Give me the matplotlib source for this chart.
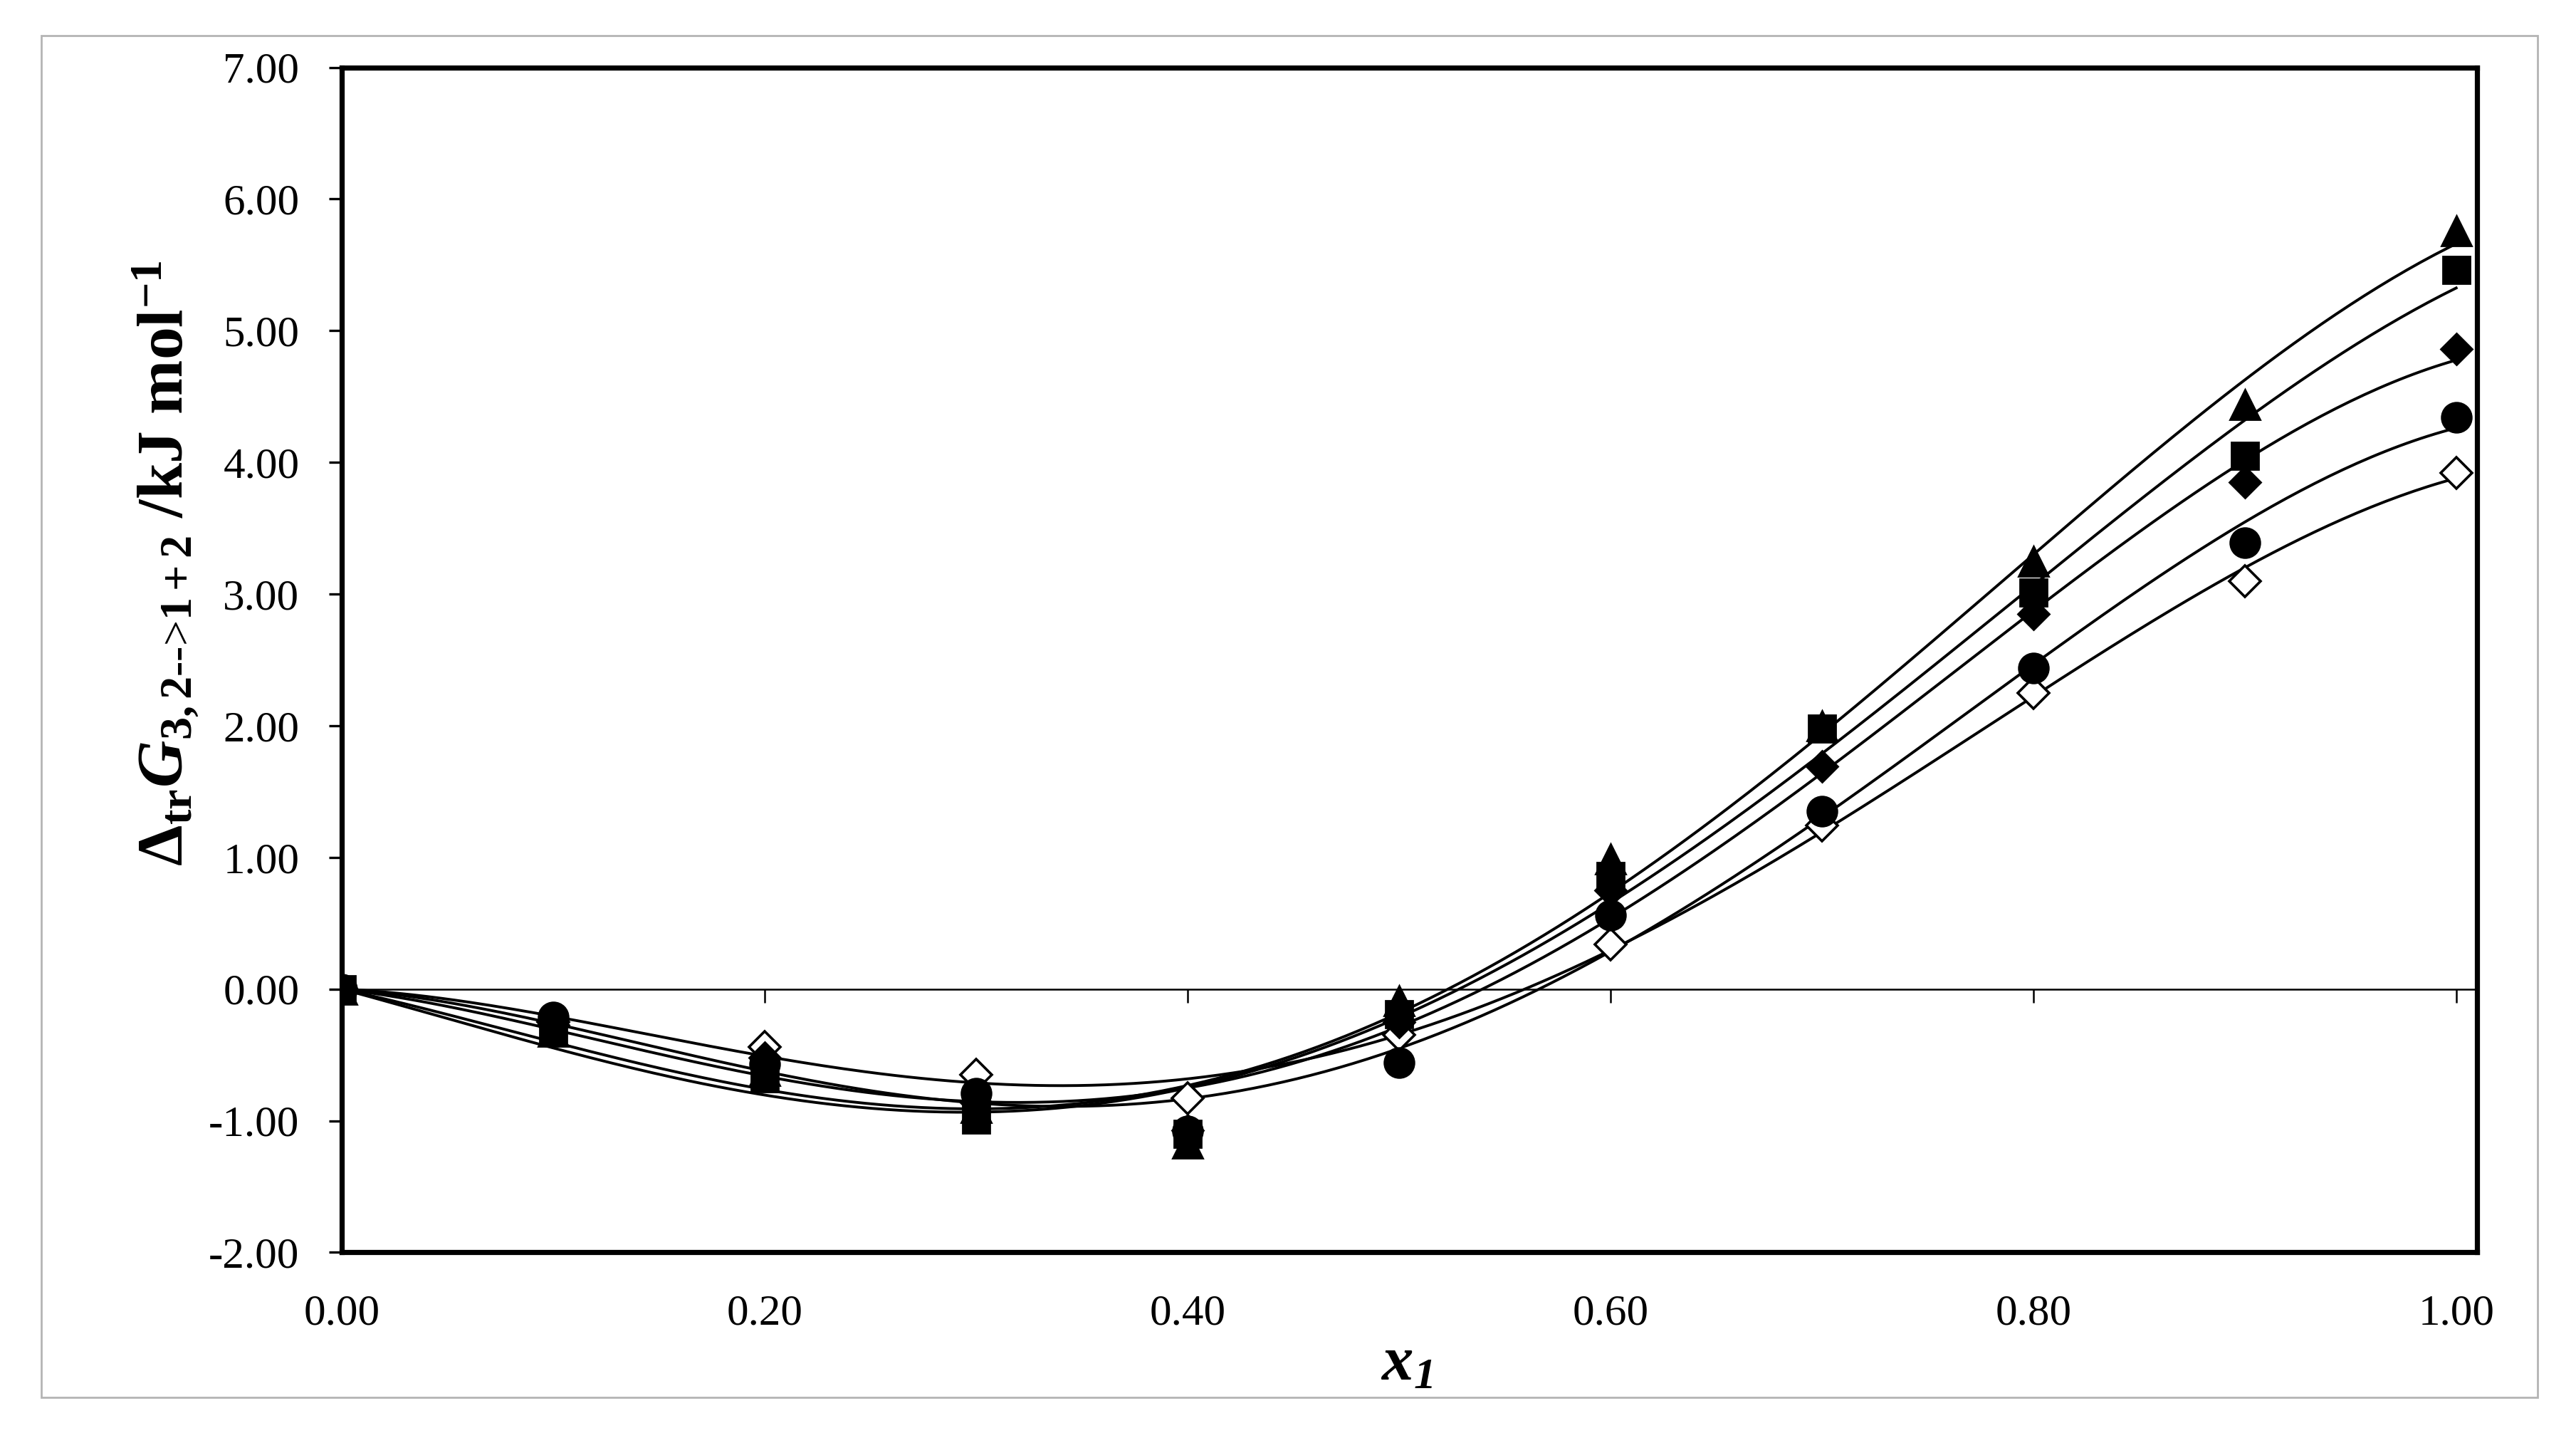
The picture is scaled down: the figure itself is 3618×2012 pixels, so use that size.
import numpy as np
import matplotlib
matplotlib.use("Agg")
import matplotlib.pyplot as plt
from matplotlib.patches import Rectangle
from matplotlib.ticker import FormatStrFormatter

plt.rcParams["font.family"] = ["Liberation Serif", "DejaVu Serif"]
plt.rcParams["axes.unicode_minus"] = False
plt.rcParams["mathtext.fontset"] = "custom"
plt.rcParams["mathtext.rm"] = "Liberation Serif"
plt.rcParams["mathtext.it"] = "Liberation Serif:italic"
plt.rcParams["mathtext.bf"] = "Liberation Serif:bold"
plt.rcParams["mathtext.bfit"] = "Liberation Serif:italic:bold"

# mole fraction x1
x1 = [0.0, 0.1, 0.2, 0.3, 0.4, 0.5, 0.6, 0.7, 0.8, 0.9, 1.0]

# transfer Gibbs energies (kJ/mol), one list per series
g_open_diamond = [0.0, -0.25, -0.44, -0.65, -0.83, -0.35, 0.34, 1.24, 2.25, 3.10, 3.92]
g_diamond = [0.0, -0.27, -0.52, -0.86, -1.07, -0.25, 0.75, 1.69, 2.85, 3.85, 4.86]
g_triangle = [0.0, -0.32, -0.62, -0.90, -1.17, -0.09, 0.99, 2.00, 3.25, 4.44, 5.76]
g_square = [0.0, -0.30, -0.68, -0.99, -1.10, -0.19, 0.86, 1.98, 3.01, 4.05, 5.46]
g_circle = [0.0, -0.21, -0.57, -0.79, -1.08, -0.56, 0.56, 1.35, 2.44, 3.39, 4.34]

xticks = [0.0, 0.2, 0.4, 0.6, 0.8, 1.0]
yticks = [-2, -1, 0, 1, 2, 3, 4, 5, 6, 7]

series = [
    (g_open_diamond, dict(marker="D", ms=11, mfc="white", mec="black", mew=1.3)),
    (g_diamond, dict(marker="D", ms=11, mfc="black", mec="black")),
    (g_triangle, dict(marker="^", ms=15, mfc="black", mec="black")),
    (g_square, dict(marker="s", ms=14, mfc="black", mec="black")),
    (g_circle, dict(marker="o", ms=15, mfc="black", mec="black")),
]
POLY_ORDER = 4  # trendline order, intercept set to zero


def trendline(xs, ys, xfit, order=POLY_ORDER):
    # least squares polynomial with no constant term
    xs, ys = np.asarray(xs), np.asarray(ys)
    A = np.vstack([xs ** k for k in range(1, order + 1)]).T
    coef, *_ = np.linalg.lstsq(A, ys, rcond=None)
    return sum(c * xfit ** k for k, c in enumerate(coef, start=1))


fig = plt.figure(figsize=(18.09, 10.06), dpi=200)
ax = fig.add_axes([0.1327, 0.126, 0.829, 0.827])

xfit = np.linspace(0.0, 1.0, 300)
for ys, _ in series:
    ax.plot(xfit, trendline(x1, ys, xfit), color="black", lw=1.4, zorder=2)

for ys, style in series:
    ax.plot(x1, ys, ls="none", zorder=3, **style)

ax.set_xlim(0.0, 1.01)
ax.set_ylim(-2.0, 7.0)
ax.set_xticks(xticks)
ax.set_yticks(yticks)
ax.xaxis.set_major_formatter(FormatStrFormatter("%.2f"))
ax.yaxis.set_major_formatter(FormatStrFormatter("%.2f"))
ax.tick_params(axis="x", length=0, pad=21, labelsize=22)
ax.tick_params(axis="y", direction="out", length=6.5, width=1.2, pad=15, labelsize=22)
for sp in ax.spines.values():
    sp.set_linewidth(2.6)

# x axis crossing at y = 0 with downward ticks
zero_ax = ax.secondary_xaxis(0.0, transform=ax.transData)
zero_ax.set_xticks(xticks)
zero_ax.tick_params(direction="out", length=7, width=0.9, labelbottom=False)
zero_ax.spines["bottom"].set_linewidth(0.9)

fig.text(0.546, 0.048, r"$\mathbfit{x}_{\mathbfit{1}}$", fontsize=32,
         ha="center", va="center")
ylab = (r"$\mathbf{\Delta}_{\mathbf{tr}}\mathbfit{G}_{\mathbf{3,2\text{-->}1+2}}$"
        r" /kJ mol$^{\mathbf{-1}}$")
fig.text(0.064, 0.607, ylab, fontsize=33, fontweight="bold", rotation=90,
         ha="center", va="center")

fig.patches.append(Rectangle((0.016, 0.025), 0.969, 0.95, transform=fig.transFigure,
                             fill=False, ec="#b4b4b4", lw=1.0))

fig.savefig("out.png", dpi=200, facecolor="white")
